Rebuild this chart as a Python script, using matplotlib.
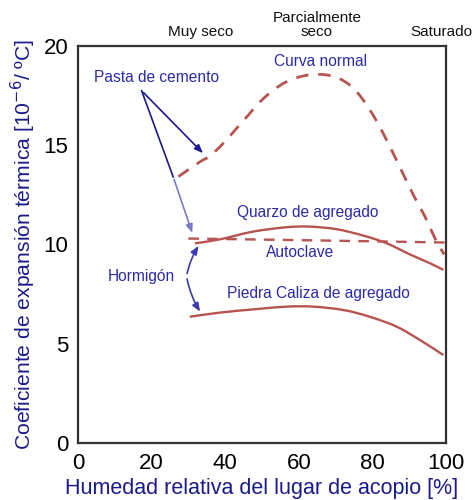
import matplotlib
matplotlib.use("Agg")
import matplotlib.pyplot as plt
from matplotlib.path import Path
from matplotlib.patches import PathPatch

plt.rcParams["font.family"] = ["Liberation Sans", "DejaVu Sans"]

# Thermal expansion coefficient [1e-6/ºC] vs. relative humidity of curing [%]
curva_x = [27.3, 33.2, 35.9, 39.5, 43.1, 46.3, 49.5, 53.1, 56.7, 61.2, 65.8,
           70.3, 74.4, 77.5, 80.7, 83.4, 86.1, 88.9, 91.6, 94.3, 97.0, 99.5]
curva_y = [13.42, 14.17, 14.46, 15.1, 15.85, 16.52, 17.19, 17.78, 18.2, 18.49, 18.57,
           18.42, 17.95, 17.28, 16.36, 15.43, 14.42, 13.34, 12.33, 11.4, 10.31, 9.5]

quarzo_x = [31.8, 38.6, 47.6, 56.7, 63.0, 70.3, 77.5, 83.9, 90.2, 95.7, 99.3]
quarzo_y = [10.06, 10.26, 10.65, 10.87, 10.9, 10.77, 10.45, 10.06, 9.5, 9.05, 8.72]

autoclave_x = [30.0, 60.0, 100.0]
autoclave_y = [10.3, 10.22, 10.1]

caliza_x = [30.4, 38.6, 47.6, 56.7, 63.9, 72.1, 79.3, 86.6, 92.9, 99.3]
caliza_y = [6.36, 6.57, 6.73, 6.87, 6.87, 6.7, 6.36, 5.86, 5.19, 4.43]

x_ticks = [0, 20, 40, 60, 80, 100]
y_ticks = [0, 5, 10, 15, 20]
top_labels = ["Muy seco", "Parcialmente\nseco", "Saturado"]
top_pos = [33.4, 64.9, 98.8]

RED = "#b85450"
BLUE = "#2b2ba6"
DARK = "#1a1a8c"


def smooth_path(xs, ys):
    """Catmull-Rom through the points, emitted as cubic Bezier segments."""
    pts = list(zip(xs, ys))
    ext = [pts[0]] + pts + [pts[-1]]
    verts = [pts[0]]
    codes = [Path.MOVETO]
    for i in range(1, len(ext) - 2):
        p0, p1, p2, p3 = ext[i - 1], ext[i], ext[i + 1], ext[i + 2]
        c1 = (p1[0] + (p2[0] - p0[0]) / 6, p1[1] + (p2[1] - p0[1]) / 6)
        c2 = (p2[0] - (p3[0] - p1[0]) / 6, p2[1] - (p3[1] - p1[1]) / 6)
        verts += [c1, c2, p2]
        codes += [Path.CURVE4] * 3
    return Path(verts, codes)


def draw(ax, xs, ys, **kw):
    ax.add_patch(PathPatch(smooth_path(xs, ys), fill=False, edgecolor=RED,
                           capstyle="butt", joinstyle="round", **kw))


fig = plt.figure(figsize=(4.75, 5.0), dpi=100)
ax = fig.add_axes([0.164, 0.114, 0.775, 0.794])

draw(ax, curva_x, curva_y, lw=2.0, linestyle=(0, (4.5, 3.5)))
draw(ax, quarzo_x, quarzo_y, lw=1.7)
draw(ax, autoclave_x, autoclave_y, lw=1.7, linestyle=(0, (4.5, 3.5)))
draw(ax, caliza_x, caliza_y, lw=1.7)

ax.set_xlim(0, 100)
ax.set_ylim(0, 20)
ax.set_xticks(x_ticks)
ax.set_yticks(y_ticks)
ax.tick_params(length=0, labelsize=16, pad=7)
for s in ax.spines.values():
    s.set_color("#333333")
    s.set_linewidth(1.6)

ax.set_xlabel("Humedad relativa del lugar de acopio [%]", fontsize=15.5,
              color=DARK, labelpad=3)
ax.set_ylabel("Coeficiente de expansión térmica [10$^{-6}$/ ºC]",
              fontsize=15.2, color=DARK, labelpad=4)

for lab, xp in zip(top_labels, top_pos):
    ax.text(xp, 20.35, lab, ha="center", va="bottom", fontsize=11,
            color="#111111", clip_on=False, linespacing=1.0)

# curve labels
fs = 11.2
ax.text(65.8, 19.2, "Curva normal", ha="center", va="center", fontsize=fs, color=BLUE)
ax.text(62.5, 11.6, "Quarzo de agregado", ha="center", va="center", fontsize=fs, color=BLUE)
ax.text(60.3, 9.6, "Autoclave", ha="center", va="center", fontsize=fs, color=BLUE)
ax.text(65.3, 7.55, "Piedra Caliza de agregado", ha="center", va="center", fontsize=fs, color=BLUE)

# Pasta de cemento pointers
ax.text(21.5, 18.4, "Pasta de cemento", ha="center", va="center", fontsize=fs, color=BLUE)
arr = dict(arrowstyle="-|>,head_length=0.5,head_width=0.2", lw=1.2)
ax.annotate("", xy=(34.5, 14.5), xytext=(17.3, 17.75),
            arrowprops=dict(color="#1a1a8c", **arr))
ax.plot([17.3, 25.9], [17.75, 13.4], color="#1a1a8c", lw=1.2)
ax.annotate("", xy=(31.3, 10.45), xytext=(25.9, 13.4),
            arrowprops=dict(color="#7a7ac8", **arr))

# Hormigón pointers
ax.text(17.3, 8.4, "Hormigón", ha="center", va="center", fontsize=fs, color=BLUE)
ax.annotate("", xy=(33.2, 10.05), xytext=(29.5, 8.4),
            arrowprops=dict(color="#3a3ab0", connectionstyle="arc3,rad=-0.1", **arr))
ax.annotate("", xy=(33.6, 6.5), xytext=(29.5, 8.4),
            arrowprops=dict(color="#3a3ab0", connectionstyle="arc3,rad=0.1", **arr))

fig.savefig("out.png", dpi=100)
